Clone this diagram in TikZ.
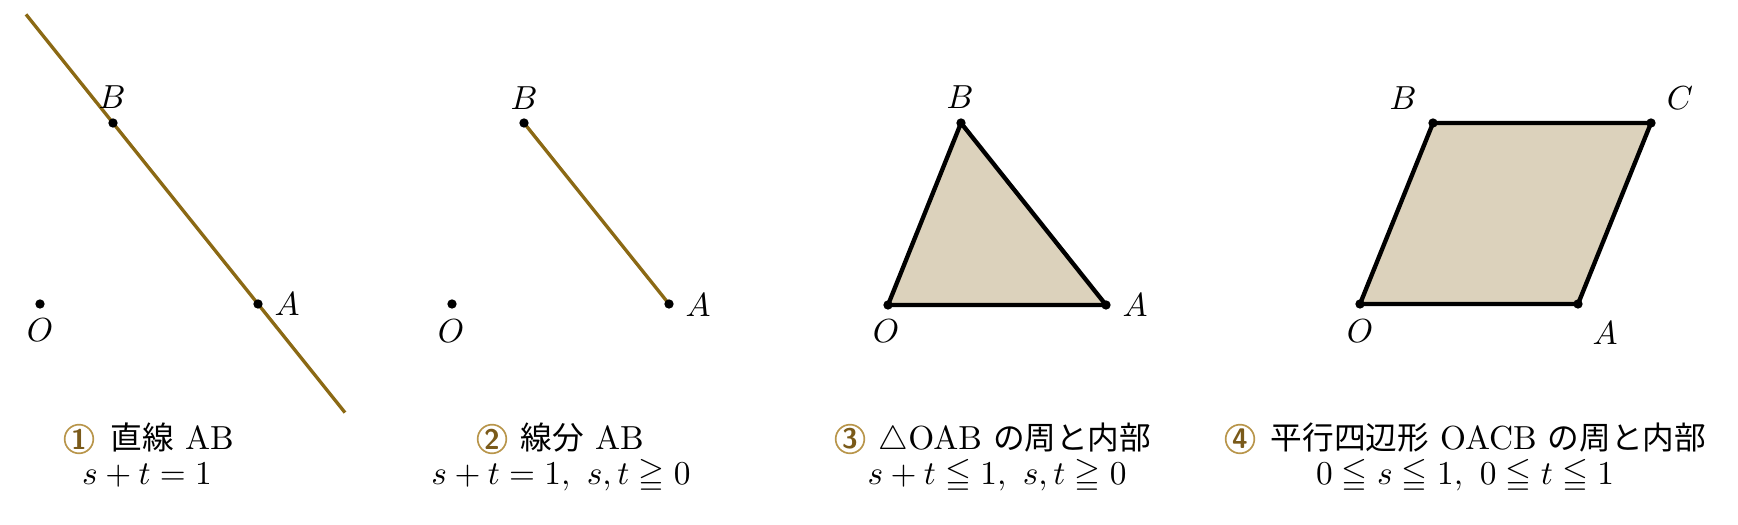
\documentclass[tikz,border=0pt]{standalone}
\usepackage{amsmath,amssymb}
\usepackage{fontspec}
\newfontfamily\jpfont[Scale=0.95]{Noto Sans CJK JP}
\newcommand{\jtext}[1]{{\jpfont #1}}
\usetikzlibrary{calc}
\definecolor{seg}{HTML}{8B6914}
\definecolor{fillc}{HTML}{DCD2BC}
\definecolor{ring}{HTML}{B8954A}
\definecolor{digit}{HTML}{7A5A1A}
\tikzset{
  ptlabel/.style={inner sep=0pt},
  segline/.style={draw=seg, line width=1pt},
  outline/.style={draw=black, line width=1.3pt, line join=round, fill=fillc},
  numc/.style={circle, draw=ring, line width=0.5pt, minimum size=8.6pt, inner sep=0pt, text=digit, font=\sffamily\bfseries\fontsize{8.5}{8.5}\selectfont},
  title/.style={anchor=base west, inner sep=0pt},
  cond/.style={anchor=base, inner sep=0pt}
}
\newcommand{\dotat}[1]{\fill (#1) circle[radius=1.4pt];}
\begin{document}
\begin{tikzpicture}[x=0.3pt,y=-0.3pt]
\useasboundingbox (0,0) rectangle (1738,525);
% ---------- panel 1
\coordinate (O1) at (40,304);
\coordinate (A1) at (258,304);
\coordinate (B1) at (113,123);
\coordinate (L1s) at ($(B1)!-0.6!(A1)$);
\coordinate (L1e) at ($(B1)!1.6!(A1)$);
\draw[segline] (L1s) -- (L1e);
\dotat{O1} \dotat{A1} \dotat{B1}
\node[ptlabel] (lB1) at (112,97) {$B$};
\node[ptlabel] (lA1) at (287,304) {$A$};
\node[ptlabel] (lO1) at (40,330) {$O$};
% ---------- panel 2
\coordinate (O2) at (452,304);
\coordinate (A2) at (669,304);
\coordinate (B2) at (524,123);
\draw[segline] (B2) -- (A2);
\dotat{O2} \dotat{A2} \dotat{B2}
\node[ptlabel] (lB2) at (524,98) {$B$};
\node[ptlabel] (lA2) at (698,305) {$A$};
\node[ptlabel] (lO2) at (451,331) {$O$};
% ---------- panel 3
\coordinate (O3) at (888,305);
\coordinate (A3) at (1106,305);
\coordinate (B3) at (961,123);
\draw[outline] (O3) -- (A3) -- (B3) -- cycle;
\dotat{O3} \dotat{A3} \dotat{B3}
\node[ptlabel] (lB3) at (960,97) {$B$};
\node[ptlabel] (lA3) at (1135,305) {$A$};
\node[ptlabel] (lO3) at (886,331) {$O$};
% ---------- panel 4
\coordinate (O4) at (1360,304);
\coordinate (A4) at (1578,304);
\coordinate (B4) at (1433,123);
\coordinate (C4) at (1651,123);
\draw[outline] (O4) -- (A4) -- (C4) -- (B4) -- cycle;
\dotat{O4} \dotat{A4} \dotat{B4} \dotat{C4}
\node[ptlabel] (lB4) at (1403,98) {$B$};
\node[ptlabel] (lC4) at (1680,98) {$C$};
\node[ptlabel] (lO4) at (1360,331) {$O$};
\node[ptlabel] (lA4) at (1605,333) {$A$};
% ---------- captions
\node[numc] (n1) at (79,439) {1};
\node[title] (t1) at (110,450) {\jtext{直線} AB};
\node[cond] (c1) at (147,485) {$s+t=1$};
\node[numc] (n2) at (492,439) {2};
\node[title] (t2) at (520,450) {\jtext{線分} AB};
\node[cond] (c2) at (561,485) {$s+t=1,\ s,t\geqq 0$};
\node[numc] (n3) at (850,439) {3};
\node[title] (t3) at (878,450) {$\triangle$OAB \jtext{の周と内部}};
\node[cond] (c3) at (997,485) {$s+t\leqq 1,\ s,t\geqq 0$};
\node[numc] (n4) at (1240,439) {4};
\node[title] (t4) at (1270,450) {\jtext{平行四辺形} OACB \jtext{の周と内部}};
\node[cond] (c4) at (1465,485) {$0\leqq s\leqq 1,\ 0\leqq t\leqq 1$};
\end{tikzpicture}
\end{document}
